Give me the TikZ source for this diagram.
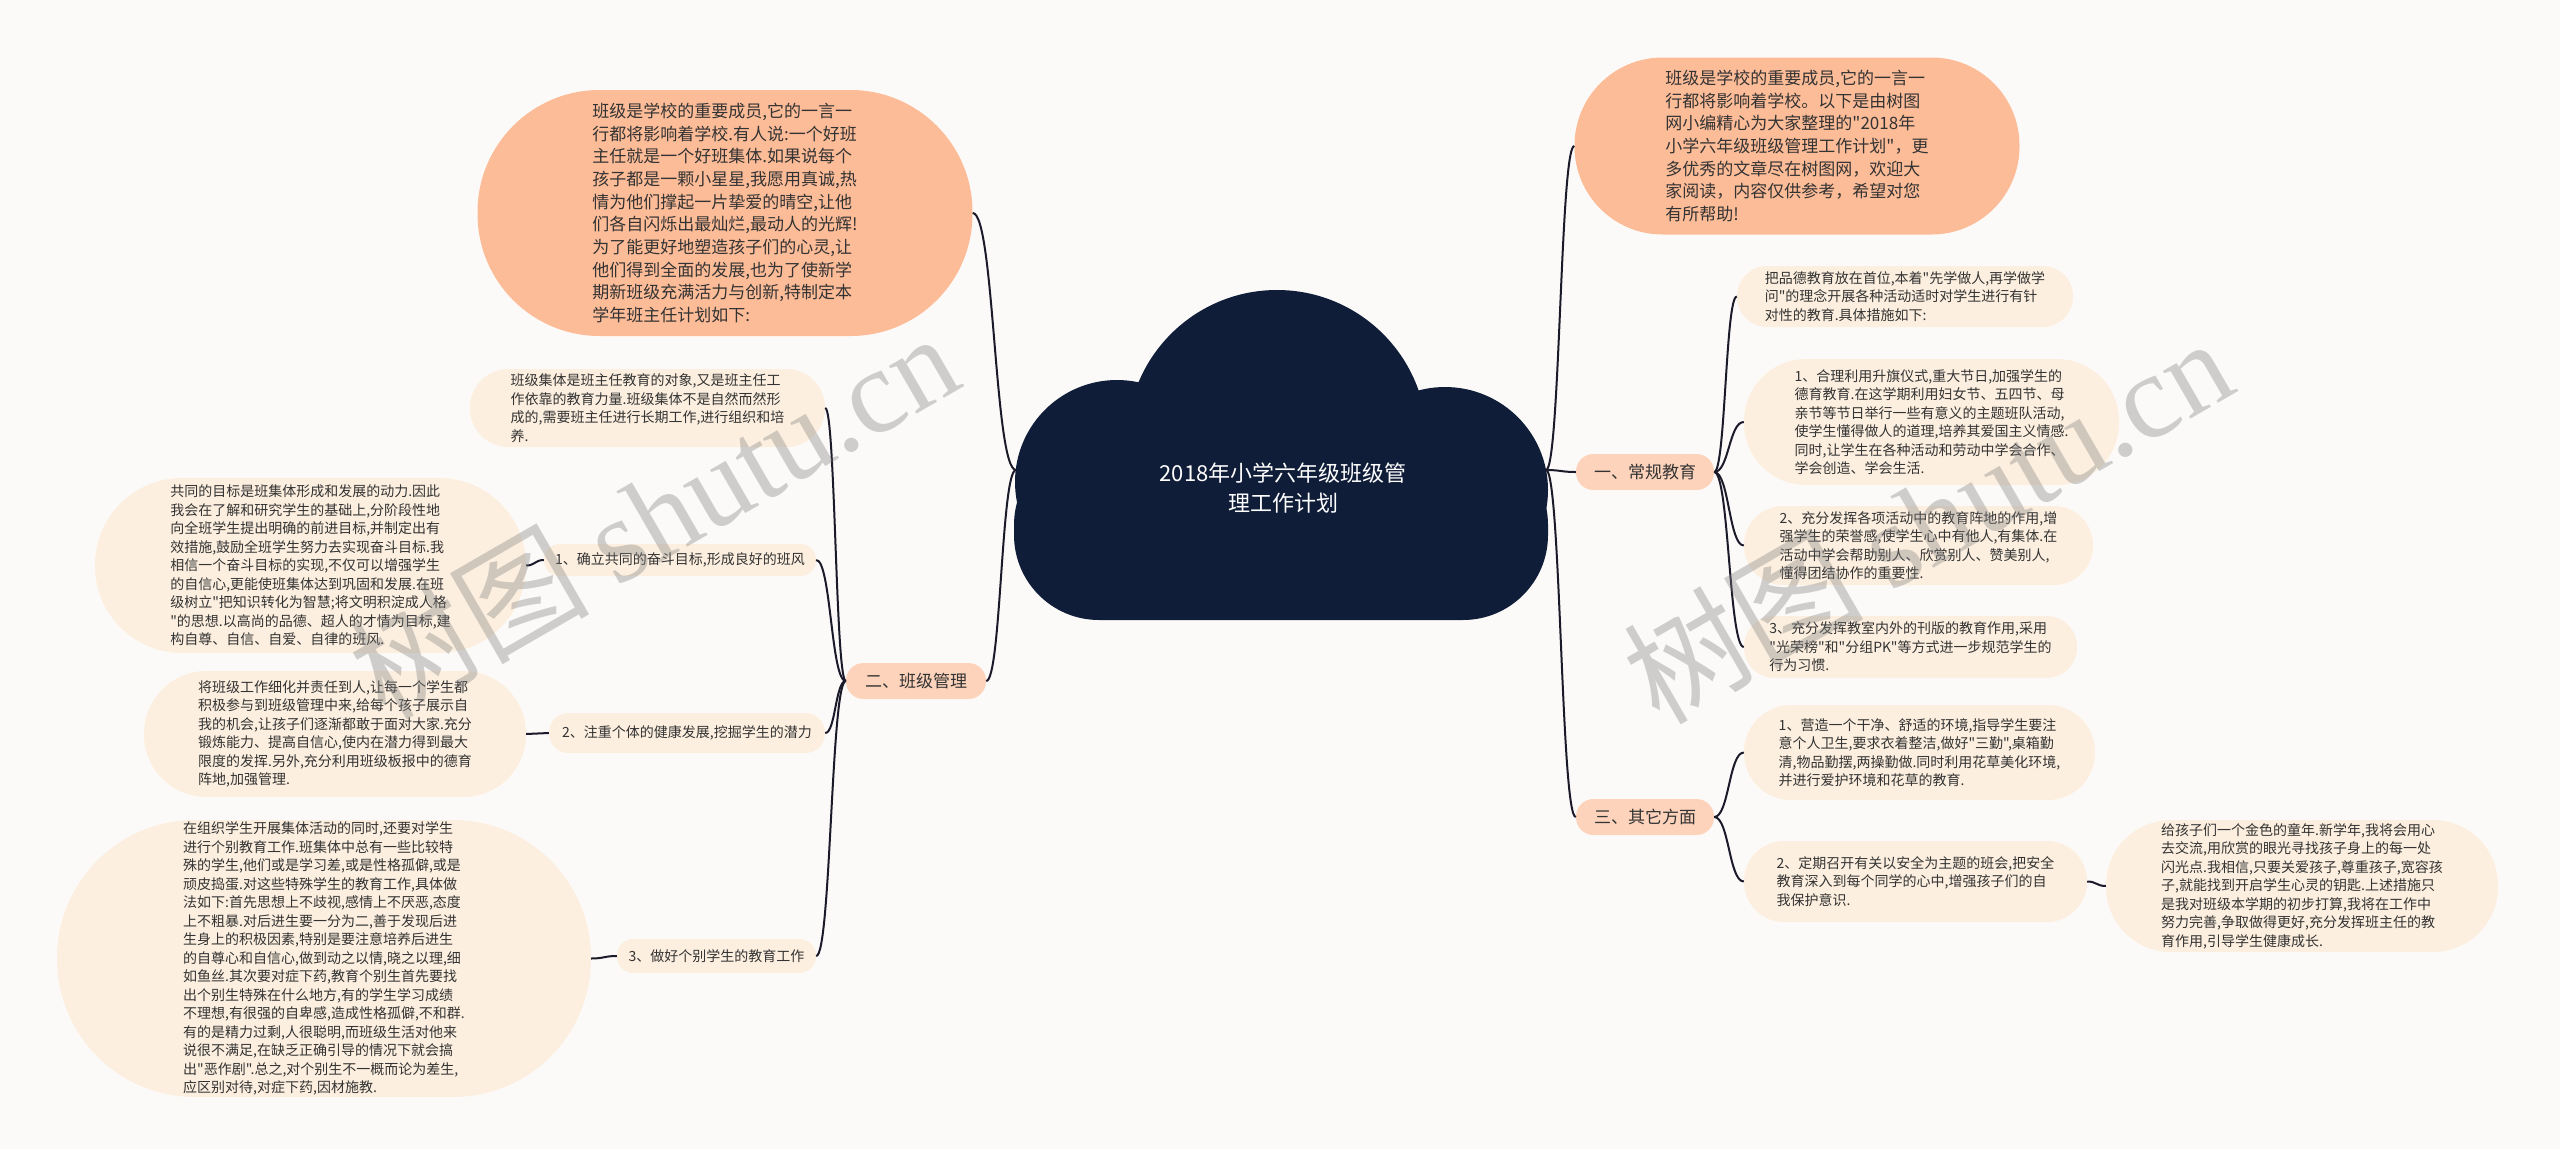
\documentclass[tikz,border=0pt]{standalone}
\usepackage{fontspec}
\setmainfont{Noto Sans CJK SC}[Ligatures=TeXOff]
\newfontfamily\wmserif{Liberation Serif}
\usetikzlibrary{calc}
\definecolor{bgc}{HTML}{FCFAF8}
\definecolor{salmon}{HTML}{FDBC98}
\definecolor{branchc}{HTML}{FDD3BB}
\definecolor{leafc}{HTML}{FCEFDF}
\definecolor{navy}{HTML}{0F1D38}
\definecolor{ink}{HTML}{333333}
\definecolor{linec}{HTML}{1A1A2A}
\tikzset{
  pill/.style={rectangle, rounded corners=#1, inner sep=0pt, text=ink, align=left},
  smalltext/.style={font=\fontsize{14}{18.5}\selectfont},
  bigtext/.style={font=\fontsize{17}{22.7}\selectfont},
  branchtext/.style={font=\fontsize{17}{22}\selectfont},
  link/.style={draw=linec, line width=2pt,
    to path={let \p1=(\tikztostart), \p2=(\tikztotarget) in
      .. controls ({0.5*\x1+0.5*\x2},\y1) and ({0.5*\x1+0.5*\x2},\y2) .. (\tikztotarget)}},
  wmark/.style={rotate=30, text=gray, opacity=0.36, font=\fontsize{120}{130}\selectfont}
}
\begin{document}
\begin{tikzpicture}[x=1pt,y=-1pt]
\useasboundingbox (0,0) rectangle (2560,1149);
\fill[bgc] (0,0) rectangle (2560,1149);

% central cloud
\fill[navy, rounded corners=85pt] (1014,440) rectangle (1548,620);
\fill[navy] (1277,440) circle[radius=150];
\fill[navy] (1117,482) circle[radius=102];
\fill[navy] (1445,490) circle[radius=103];
\node[text=white, align=center, font=\fontsize{22}{30}\selectfont] (ctr) at (1283,488) {2018年小学六年级班级管\\理工作计划};
\coordinate (cL) at (1016,470);
\coordinate (cR) at (1546,470);

% top nodes
\node[pill=122pt, fill=salmon, minimum width=495pt, minimum height=246pt, bigtext] (TL) at (725,213) {班级是学校的重要成员,它的一言一\\行都将影响着学校.有人说:一个好班\\主任就是一个好班集体.如果说每个\\孩子都是一颗小星星,我愿用真诚,热\\情为他们撑起一片挚爱的晴空,让他\\们各自闪烁出最灿烂,最动人的光辉!\\为了能更好地塑造孩子们的心灵,让\\他们得到全面的发展,也为了使新学\\期新班级充满活力与创新,特制定本\\学年班主任计划如下:};
\node[pill=88pt, fill=salmon, minimum width=445pt, minimum height=177pt, bigtext] (TR) at (1797,146) {班级是学校的重要成员,它的一言一\\行都将影响着学校。以下是由树图\\网小编精心为大家整理的"2018年\\小学六年级班级管理工作计划"，更\\多优秀的文章尽在树图网，欢迎大\\家阅读，内容仅供参考，希望对您\\有所帮助!};

% branch nodes
\node[pill=17.5pt, fill=branchc, minimum width=138pt, minimum height=36pt, branchtext] (B1) at (1645,472) {一、常规教育};
\node[pill=17.5pt, fill=branchc, minimum width=138pt, minimum height=36pt, branchtext] (B3) at (1645,817) {三、其它方面};
\node[pill=17.5pt, fill=branchc, minimum width=140pt, minimum height=36pt, branchtext] (B2) at (916,681) {二、班级管理};

% right leaves
\node[pill=30pt, fill=leafc, minimum width=336pt, minimum height=61pt, smalltext] (R0) at (1905,296.5) {把品德教育放在首位,本着"先学做人,再学做学\\问"的理念开展各种活动适时对学生进行有针\\对性的教育.具体措施如下:};
\node[pill=62pt, fill=leafc, minimum width=375pt, minimum height=126pt, smalltext] (R1) at (1931.5,422) {1、合理利用升旗仪式,重大节日,加强学生的\\德育教育.在这学期利用妇女节、五四节、母\\亲节等节日举行一些有意义的主题班队活动,\\使学生懂得做人的道理,培养其爱国主义情感.\\同时,让学生在各种活动和劳动中学会合作、\\学会创造、学会生活.};
\node[pill=39pt, fill=leafc, minimum width=349pt, minimum height=79pt, smalltext] (R2) at (1918.5,545.5) {2、充分发挥各项活动中的教育阵地的作用,增\\强学生的荣誉感,使学生心中有他人,有集体.在\\活动中学会帮助别人、欣赏别人、赞美别人,\\懂得团结协作的重要性.};
\node[pill=30.5pt, fill=leafc, minimum width=333pt, minimum height=62pt, smalltext] (R3) at (1910.5,647) {3、充分发挥教室内外的刊版的教育作用,采用\\"光荣榜"和"分组PK"等方式进一步规范学生的\\行为习惯.};
\node[pill=47pt, fill=leafc, minimum width=351pt, minimum height=95pt, smalltext] (R4) at (1919.5,752.5) {1、营造一个干净、舒适的环境,指导学生要注\\意个人卫生,要求衣着整洁,做好"三勤",桌箱勤\\清,物品勤摆,两操勤做.同时利用花草美化环境,\\并进行爱护环境和花草的教育.};
\node[pill=40pt, fill=leafc, minimum width=343pt, minimum height=81pt, smalltext] (R5) at (1915.5,881.5) {2、定期召开有关以安全为主题的班会,把安全\\教育深入到每个同学的心中,增强孩子们的自\\我保护意识.};
\node[pill=65pt, fill=leafc, minimum width=392pt, minimum height=132pt, smalltext] (R5c) at (2302,886) {给孩子们一个金色的童年.新学年,我将会用心\\去交流,用欣赏的眼光寻找孩子身上的每一处\\闪光点.我相信,只要关爱孩子,尊重孩子,宽容孩\\子,就能找到开启学生心灵的钥匙.上述措施只\\是我对班级本学期的初步打算,我将在工作中\\努力完善,争取做得更好,充分发挥班主任的教\\育作用,引导学生健康成长.};

% left leaves
\node[pill=38.5pt, fill=leafc, minimum width=355pt, minimum height=78pt, smalltext] (L0) at (647.5,408) {班级集体是班主任教育的对象,又是班主任工\\作依靠的教育力量.班级集体不是自然而然形\\成的,需要班主任进行长期工作,进行组织和培\\养.};
\node[pill=15.5pt, fill=leafc, minimum width=272pt, minimum height=32pt, smalltext] (L1) at (680,560) {1、确立共同的奋斗目标,形成良好的班风};
\node[pill=87pt, fill=leafc, minimum width=431pt, minimum height=175pt, smalltext] (L1c) at (310.5,565.5) {共同的目标是班集体形成和发展的动力.因此\\我会在了解和研究学生的基础上,分阶段性地\\向全班学生提出明确的前进目标,并制定出有\\效措施,鼓励全班学生努力去实现奋斗目标.我\\相信一个奋斗目标的实现,不仅可以增强学生\\的自信心,更能使班集体达到巩固和发展.在班\\级树立"把知识转化为智慧;将文明积淀成人格\\"的思想.以高尚的品德、超人的才情为目标,建\\构自尊、自信、自爱、自律的班风.};
\node[pill=19.5pt, fill=leafc, minimum width=276pt, minimum height=40pt, smalltext] (L2) at (687,733) {2、注重个体的健康发展,挖掘学生的潜力};
\node[pill=62.5pt, fill=leafc, minimum width=382pt, minimum height=126pt, smalltext] (L2c) at (335,734) {将班级工作细化并责任到人,让每一个学生都\\积极参与到班级管理中来,给每个孩子展示自\\我的机会,让孩子们逐渐都敢于面对大家.充分\\锻炼能力、提高自信心,使内在潜力得到最大\\限度的发挥.另外,充分利用班级板报中的德育\\阵地,加强管理.};
\node[pill=16.5pt, fill=leafc, minimum width=199pt, minimum height=34pt, smalltext] (L3) at (716.5,956) {3、做好个别学生的教育工作};
\node[pill=138pt, fill=leafc, minimum width=534pt, minimum height=277pt, smalltext] (L3c) at (324,958.5) {在组织学生开展集体活动的同时,还要对学生\\进行个别教育工作.班集体中总有一些比较特\\殊的学生,他们或是学习差,或是性格孤僻,或是\\顽皮捣蛋.对这些特殊学生的教育工作,具体做\\法如下:首先思想上不歧视,感情上不厌恶,态度\\上不粗暴.对后进生要一分为二,善于发现后进\\生身上的积极因素,特别是要注意培养后进生\\的自尊心和自信心,做到动之以情,晓之以理,细\\如鱼丝.其次要对症下药,教育个别生首先要找\\出个别生特殊在什么地方,有的学生学习成绩\\不理想,有很强的自卑感,造成性格孤僻,不和群.\\有的是精力过剩,人很聪明,而班级生活对他来\\说很不满足,在缺乏正确引导的情况下就会搞\\出"恶作剧".总之,对个别生不一概而论为差生,\\应区别对待,对症下药,因材施教.};

% connectors
\draw[link] (cL) to (TL.east);
\draw[link] (cL) to (B2.east);
\draw[link] (cR) to (TR.west);
\draw[link] (cR) to (B1.west);
\draw[link] (cR) to (B3.west);
\draw[link] (B1.east) to (R0.west);
\draw[link] (B1.east) to (R1.west);
\draw[link] (B1.east) to (R2.west);
\draw[link] (B1.east) to (R3.west);
\draw[link] (B3.east) to (R4.west);
\draw[link] (B3.east) to (R5.west);
\draw[link] (R5.east) to (R5c.west);
\draw[link] (B2.west) to (L0.east);
\draw[link] (B2.west) to (L1.east);
\draw[link] (B2.west) to (L2.east);
\draw[link] (B2.west) to (L3.east);
\draw[link] (L1.west) to (L1c.east);
\draw[link] (L2.west) to (L2c.east);
\draw[link] (L3.west) to (L3c.east);

% watermarks
\node[wmark] (wm1) at (653,514) {树图 {\wmserif shutu.cn}};
\node[wmark] (wm2) at (1927,519) {树图 {\wmserif shutu.cn}};
\end{tikzpicture}
\end{document}
